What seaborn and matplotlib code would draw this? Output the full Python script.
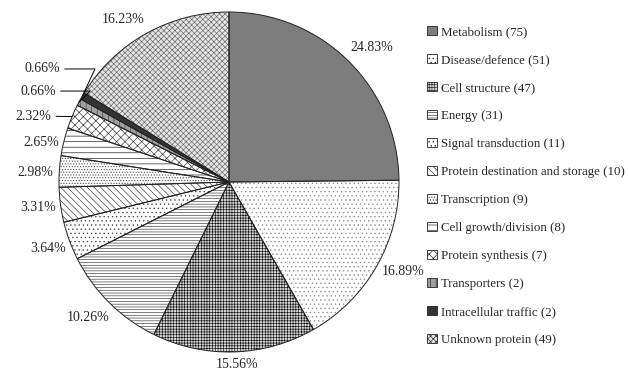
import numpy as np
import matplotlib
matplotlib.use("Agg")
import matplotlib.pyplot as plt
from matplotlib.patches import Patch
import seaborn as sns

categories = ["Metabolism", "Disease/defence", "Cell structure", "Energy",
              "Signal transduction", "Protein destination and storage",
              "Transcription", "Cell growth/division", "Protein synthesis",
              "Transporters", "Intracellular traffic", "Unknown protein"]
counts = [75, 51, 47, 31, 11, 10, 9, 8, 7, 2, 2, 49]

sns.set_style("white")
plt.rcParams["font.family"] = ["Liberation Serif", "DejaVu Serif"]
plt.rcParams["hatch.linewidth"] = 0.45

faces = ["#7d7d7d", "white", "#d8d8d8", "white", "white", "white",
         "white", "white", "white", "#a0a0a0", "#333333", "#e4e4e4"]
hatches = ["", "....", "++++++", "------", "....", "\\\\\\\\\\",
           "......", "---", "xxxx", "|||", "", "xxxxxx"]
hatch_colors = ["#555555", "#888888", "#111111", "#333333", "#444444", "#333333",
                "#444444", "#111111", "#333333", "#444444", "#222222", "#666666"]

W, H, DPI = 628, 373, 100
R_PX = 170.0
CX, CY = 229.0, 182.0  # pie centre in pixels from top-left

fig = plt.figure(figsize=(W / DPI, H / DPI), dpi=DPI)
ax = fig.add_axes([0, 0, 1, 1])

wedges, _ = ax.pie(counts, startangle=90, counterclock=False, radius=1.0,
                   wedgeprops=dict(linewidth=0))
for w, fc, ht, hc in zip(wedges, faces, hatches, hatch_colors):
    w.set_facecolor(fc)
    w.set_edgecolor(hc)
    w.set_hatch(ht)
    w.set_linewidth(0)

# outline of every slice
ax.pie(counts, startangle=90, counterclock=False, radius=1.0,
       wedgeprops=dict(facecolor="none", edgecolor="#222222", linewidth=0.7))

ax.set_xlim(-CX / R_PX, (W - CX) / R_PX)
ax.set_ylim(-(H - CY) / R_PX, CY / R_PX)
ax.set_aspect("equal", adjustable="datalim")
ax.axis("off")

total = float(sum(counts))
pcts = [c / total * 100 for c in counts]

# label radius (fraction of pie radius) and angular nudge (degrees) per slice
label_r = [1.15, 1.15, 1.075, 1.15, 1.135, 1.134, 1.14, 1.13, 1.0, 1.0, 1.0, 1.14]
label_shift = [2.0, -2.5, -0.7, 1.3, 0.0, 0.0, -0.9, -1.7, 0, 0, 0, -4.0]
# small slices labelled with leader lines: text anchor and bend angle
leader = {8: (-1.045, 0.388, None), 9: (-1.018, 0.535, 45), 10: (-0.994, 0.665, 65)}

cum = 0.0
for i, c in enumerate(counts):
    mid = (cum + c / 2) / total * 360.0
    cum += c
    text = f"{pcts[i]:.2f}%"
    if i in leader:
        theta = np.deg2rad(90 - mid)
        ex, ey = np.cos(theta), np.sin(theta)
        tx, ty, bend = leader[i]
        if bend is None:
            cs = "arc3,rad=0"
        else:
            cs = f"angle,angleA=0,angleB={bend},rad=0"
        ax.annotate(text, xy=(ex, ey), xytext=(tx, ty), ha="right", va="center",
                    fontsize=10,
                    arrowprops=dict(arrowstyle="-", color="black", lw=0.7,
                                    shrinkA=1, shrinkB=0, connectionstyle=cs))
    else:
        theta = np.deg2rad(90 - (mid + label_shift[i]))
        r = label_r[i]
        ax.text(np.cos(theta) * r, np.sin(theta) * r, text,
                ha="center", va="center", fontsize=10)

handles = [Patch(facecolor=fc, edgecolor="#222222", hatch=ht, linewidth=0.6)
           for fc, ht in zip(faces, hatches)]
labels = [f"{n} ({c})" for n, c in zip(categories, counts)]
fig.legend(handles, labels, loc="upper left", bbox_to_anchor=(0.672, 0.945),
           frameon=False, fontsize=9.3, handlelength=0.75, handleheight=0.75,
           handletextpad=0.3, labelspacing=1.22, borderaxespad=0)

fig.savefig("out.png", dpi=DPI)
